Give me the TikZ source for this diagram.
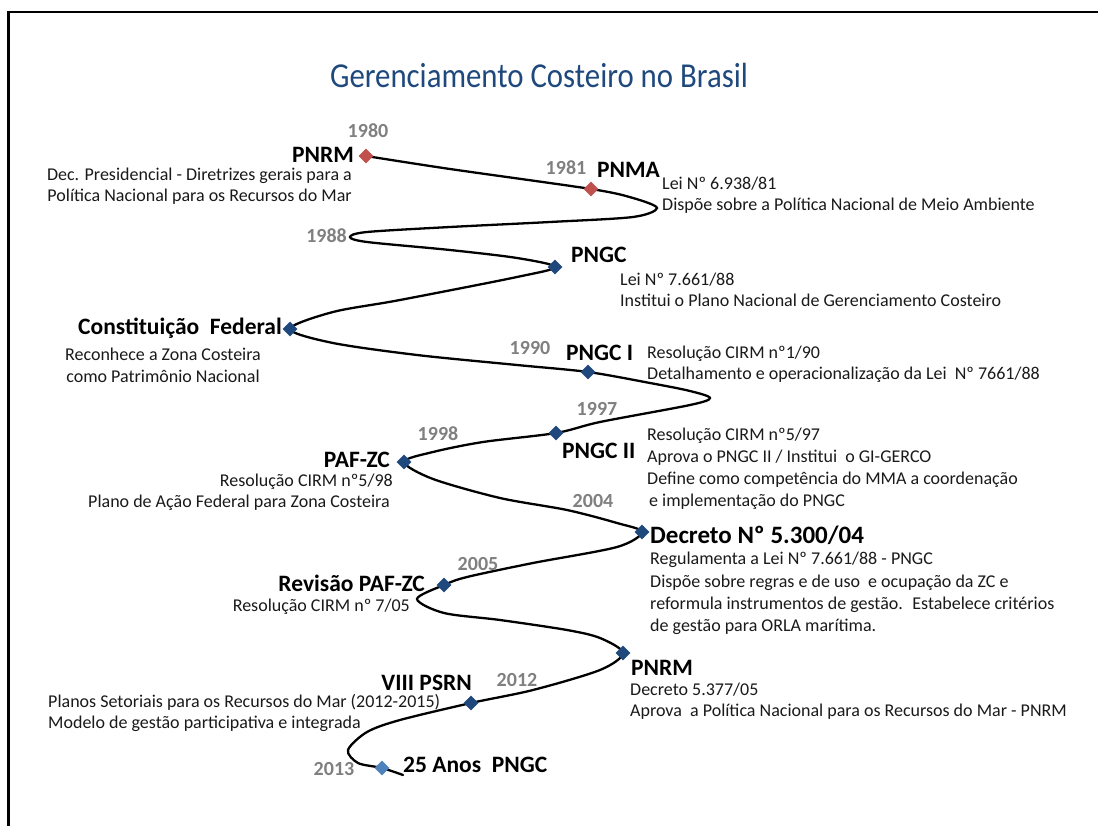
\documentclass[tikz,border=0pt]{standalone}
\usepackage{fontspec}
\setmainfont{Carlito}
\newfontfamily\titlefont{Carlito}[FakeStretch=0.88]
\usetikzlibrary{shapes.geometric}
\definecolor{redd}{HTML}{C0504D}
\definecolor{blued}{HTML}{1F497D}
\definecolor{bluel}{HTML}{4F81BD}
\definecolor{titleblue}{HTML}{1F497D}
\definecolor{yeargray}{HTML}{808080}
\definecolor{txt}{HTML}{1A1A1A}
\begin{document}
\begin{tikzpicture}[x=1pt,y=-1pt,
  dia/.style={shape=diamond, inner sep=0pt, minimum width=15pt, minimum height=15pt, draw=none},
  curve/.style={line width=2.3pt, black, line cap=round},
  d/.style={font=\fontsize{18}{21}\selectfont, inner sep=0pt, text=txt},
  lbl/.style={font=\fontsize{23.5}{28}\selectfont\bfseries, inner sep=0pt, text=black},
  big/.style={font=\fontsize{25}{30}\selectfont\bfseries, inner sep=0pt, text=black},
  yr/.style={font=\fontsize{20}{24}\selectfont\bfseries, inner sep=0pt, text=yeargray},
  ttl/.style={font=\titlefont\fontsize{35}{40}\selectfont, inner sep=0pt, text=titleblue}]
\useasboundingbox (0,0) rectangle (1098,826);
\fill[white] (0,0) rectangle (1098,826);
\draw[line width=2.8pt] (8.5,830) -- (8.5,12) -- (1100,12);

\node[ttl, anchor=base] (ttl) at (539,88) {Gerenciamento Costeiro no Brasil};

% positions of the milestones
\coordinate (p80) at (366,156);
\coordinate (p81) at (591,189);
\coordinate (p88) at (555,267);
\coordinate (pcf) at (290,329);
\coordinate (p90) at (588,372);
\coordinate (p97) at (556,433);
\coordinate (p98) at (404,462);
\coordinate (p04) at (642,532);
\coordinate (p05) at (444,585);
\coordinate (p05b) at (623,653);
\coordinate (p12) at (471,703);
\coordinate (p13) at (382,768);
\coordinate (pend) at (403,775);

\draw[curve] plot[smooth, tension=0.5] coordinates {
 (p80) (450,169) (p81) (633,198) (657,208) (633,217) (550,222) (450,227) (367,232) (350,237) (367,242)
 (450,250) (517,258) (p88) (517,277) (400,300) (333,312) (pcf) (333,343) (417,355) (517,365) (p90)
 (650,383) (690,391) (710,398) (690,405) (600,422) (p97) (483,442) (433,452) (p98) (433,479)
 (500,498) (567,510) (617,523) (p04) (617,547) (533,563) (467,577) (p05) (417,599) (444,613)
 (500,620) (567,630) (600,638) (p05b) (600,670) (533,690) (p12) (400,720) (367,732) (348,750)
 (358,763) (p13) (pend)};

\node[dia, fill=redd] (n80) at (p80) {};
\node[dia, fill=redd] (n81) at (p81) {};
\node[dia, fill=blued] (n88) at (p88) {};
\node[dia, fill=blued] (ncf) at (pcf) {};
\node[dia, fill=blued] (n90) at (p90) {};
\node[dia, fill=blued] (n97) at (p97) {};
\node[dia, fill=blued] (n98) at (p98) {};
\node[dia, fill=blued] (n04) at (p04) {};
\node[dia, fill=blued] (n05) at (p05) {};
\node[dia, fill=blued] (n05b) at (p05b) {};
\node[dia, fill=blued] (n12) at (p12) {};
\node[dia, fill=bluel] (n13) at (p13) {};

% 1980
\node[yr, anchor=base] (y80) at (368,138) {1980};
\node[lbl, anchor=base east] (l80) at (354,163) {PNRM};
\node[d, anchor=base east] (d80a) at (352,181) {Dec. Presidencial - Diretrizes gerais para a};
\node[d, anchor=base east] (d80b) at (352,202) {Política Nacional para os Recursos do Mar};
% 1981
\node[yr, anchor=base] (y81) at (566,175) {1981};
\node[lbl, anchor=base west] (l81) at (597,178) {PNMA};
\node[d, anchor=base west] (d81a) at (662,190) {Lei Nº 6.938/81};
\node[d, anchor=base west] (d81b) at (662,211) {Dispõe sobre a Política Nacional de Meio Ambiente};
% 1988
\node[yr, anchor=base east] (y88) at (347,243) {1988};
\node[lbl, anchor=base west] (l88) at (571,263) {PNGC};
\node[d, anchor=base west] (d88a) at (620,286) {Lei Nº 7.661/88};
\node[d, anchor=base west] (d88b) at (620,307) {Institui o Plano Nacional de Gerenciamento Costeiro};
% Constituicao
\node[lbl, anchor=base east] (lcf) at (282,335) {Constituição~ Federal};
\node[d, anchor=base] (dcfa) at (163,360) {Reconhece a Zona Costeira};
\node[d, anchor=base] (dcfb) at (163,382) {como Patrimônio Nacional};
% 1990
\node[yr, anchor=base] (y90) at (530,355) {1990};
\node[lbl, anchor=base west] (l90) at (566,360) {PNGC I};
\node[d, anchor=base west] (d90a) at (647,359) {Resolução CIRM nº1/90};
\node[d, anchor=base west] (d90b) at (647,380) {Detalhamento e operacionalização da Lei~ Nº 7661/88};
% 1997
\node[yr, anchor=base] (y97) at (597,415) {1997};
\node[lbl, anchor=base west] (l97) at (562,458) {PNGC II};
\node[d, anchor=base west] (d97a) at (647,440) {Resolução CIRM nº5/97};
\node[d, anchor=base west] (d97b) at (647,462) {Aprova o PNGC II / Institui~ o GI-GERCO};
\node[d, anchor=base west] (d97c) at (647,484) {Define como competência do MMA a coordenação};
\node[d, anchor=base west] (d97d) at (649,506) {e implementação do PNGC};
% 1998
\node[yr, anchor=base] (y98) at (438,440) {1998};
\node[lbl, anchor=base east] (l98) at (390,467) {PAF-ZC};
\node[d, anchor=base east] (d98a) at (393,486) {Resolução CIRM nº5/98};
\node[d, anchor=base east] (d98b) at (390,507) {Plano de Ação Federal para Zona Costeira};
% 2004
\node[yr, anchor=base] (y04) at (593,507) {2004};
\node[big, anchor=base west] (l04) at (650,543) {Decreto Nº 5.300/04};
\node[d, anchor=base west] (d04a) at (650,564) {Regulamenta a Lei Nº 7.661/88 - PNGC};
\node[d, anchor=base west] (d04b) at (650,587) {Dispõe sobre regras e de uso~ e ocupação da ZC e};
\node[d, anchor=base west] (d04c) at (650,609) {reformula instrumentos de gestão.~ Estabelece critérios};
\node[d, anchor=base west] (d04d) at (650,631) {de gestão para ORLA marítima.};
% 2005
\node[yr, anchor=base] (y05) at (478,570) {2005};
\node[lbl, anchor=base east] (l05) at (425,591) {Revisão PAF-ZC};
\node[d, anchor=base east] (d05) at (410,611) {Resolução CIRM nº 7/05};
% PNRM 2005
\node[lbl, anchor=base west] (l05b) at (631,675) {PNRM};
\node[d, anchor=base west] (d05ba) at (630,695) {Decreto 5.377/05};
\node[d, anchor=base west] (d05bb) at (630,716) {Aprova~ a Política Nacional para os Recursos do Mar - PNRM};
% 2012
\node[lbl, anchor=base east] (l12) at (472,690) {VIII PSRN};
\node[yr, anchor=base] (y12) at (517,686) {2012};
\node[d, anchor=base west] (d12a) at (48,707) {Planos Setoriais para os Recursos do Mar (2012-2015)};
\node[d, anchor=base west] (d12b) at (48,728) {Modelo de gestão participativa e integrada};
% 2013
\node[yr, anchor=base] (y13) at (334,775) {2013};
\node[lbl, anchor=base west] (l13) at (403,772) {25 Anos~ PNGC};
\end{tikzpicture}
\end{document}
